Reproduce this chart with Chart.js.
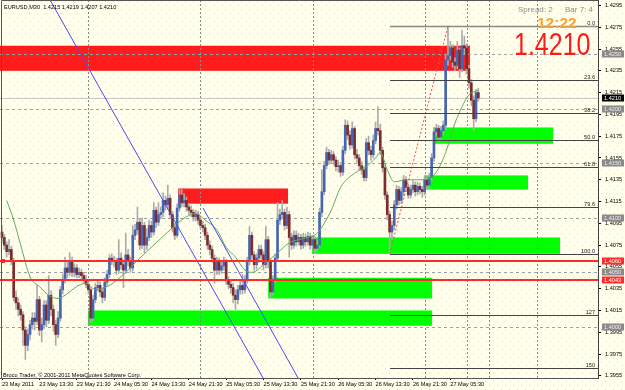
<!DOCTYPE html>
<html><head><meta charset="utf-8">
<script src="https://cdn.jsdelivr.net/npm/chart.js@4/dist/chart.umd.min.js"></script>
<style>html,body{margin:0;padding:0;background:#FFFFEC;}canvas{display:block}</style>
</head><body>
<canvas id="c" width="625" height="390" style="width:625px;height:390px"></canvas>
<script>
// ---------------- DATA (EURUSD M30) ----------------
const opens = [1.4087,1.4082,1.4075,1.4069,1.4071,1.4060,1.4027,1.4022,1.4016,1.4011,
1.3997,1.3983,1.3993,1.4002,1.4008,1.4005,1.4025,1.3997,1.4002,1.4020,
1.4006,1.4029,1.4016,1.4002,1.3993,1.4008,1.4034,1.4043,1.4054,1.4050,
1.4060,1.4050,1.4054,1.4048,1.4050,1.4047,1.4043,1.4039,1.4034,1.4008,
1.4025,1.4036,1.4038,1.4032,1.4027,1.4041,1.4048,1.4063,1.4061,1.4060,
1.4052,1.4063,1.4057,1.4052,1.4066,1.4060,1.4054,1.4084,1.4089,1.4096,
1.4075,1.4093,1.4075,1.4082,1.4093,1.4087,1.4107,1.4096,1.4103,1.4105,
1.4116,1.4112,1.4118,1.4103,1.4091,1.4084,1.4109,1.4121,1.4114,1.4116,
1.4110,1.4107,1.4105,1.4101,1.4103,1.4098,1.4093,1.4091,1.4084,1.4075,
1.4071,1.4063,1.4052,1.4060,1.4052,1.4056,1.4060,1.4043,1.4039,1.4036,
1.4029,1.4025,1.4034,1.4038,1.4034,1.4043,1.4060,1.4084,1.4066,1.4057,
1.4063,1.4071,1.4066,1.4057,1.4080,1.4060,1.4032,1.4043,1.4063,1.4098,
1.4103,1.4105,1.4093,1.4103,1.4082,1.4075,1.4084,1.4078,1.4082,1.4075,
1.4082,1.4078,1.4083,1.4075,1.4080,1.4072,1.4075,1.4105,1.4124,1.4148,
1.4160,1.4153,1.4158,1.4153,1.4147,1.4148,1.4142,1.4162,1.4185,1.4176,
1.4167,1.4182,1.4158,1.4155,1.4148,1.4144,1.4137,1.4169,1.4162,1.4158,
1.4171,1.4182,1.4180,1.4162,1.4146,1.4121,1.4103,1.4087,1.4093,1.4112,
1.4126,1.4116,1.4124,1.4135,1.4128,1.4121,1.4126,1.4130,1.4124,1.4129,
1.4126,1.4124,1.4135,1.4130,1.4137,1.4155,1.4179,1.4182,1.4174,1.4180,
1.4185,1.4245,1.4249,1.4256,1.4243,1.4240,1.4254,1.4237,1.4258,1.4256,
1.4237,1.4224,1.4208,1.4191,1.4215];
const highs = [1.4093,1.4085,1.4078,1.4080,1.4074,1.4063,1.4033,1.4026,1.4020,1.4014,
1.4000,1.3998,1.4006,1.4013,1.4013,1.4038,1.4028,1.4008,1.4024,1.4024,
1.4047,1.4033,1.4020,1.4006,1.4014,1.4037,1.4048,1.4064,1.4060,1.4068,
1.4064,1.4058,1.4057,1.4054,1.4053,1.4050,1.4047,1.4042,1.4036,1.4029,
1.4040,1.4043,1.4041,1.4036,1.4045,1.4052,1.4066,1.4067,1.4065,1.4063,
1.4080,1.4068,1.4061,1.4086,1.4071,1.4064,1.4093,1.4094,1.4110,1.4099,
1.4100,1.4096,1.4090,1.4098,1.4097,1.4114,1.4110,1.4114,1.4110,1.4123,
1.4120,1.4130,1.4121,1.4106,1.4095,1.4113,1.4127,1.4126,1.4122,1.4119,
1.4113,1.4111,1.4108,1.4107,1.4106,1.4101,1.4097,1.4094,1.4087,1.4079,
1.4074,1.4066,1.4064,1.4063,1.4060,1.4064,1.4062,1.4046,1.4043,1.4040,
1.4034,1.4038,1.4043,1.4048,1.4047,1.4064,1.4092,1.4087,1.4069,1.4067,
1.4075,1.4075,1.4069,1.4092,1.4083,1.4062,1.4047,1.4067,1.4114,1.4108,
1.4116,1.4108,1.4110,1.4106,1.4086,1.4088,1.4088,1.4086,1.4085,1.4086,
1.4085,1.4087,1.4086,1.4084,1.4083,1.4079,1.4109,1.4144,1.4152,1.4165,
1.4163,1.4162,1.4161,1.4156,1.4153,1.4151,1.4166,1.4190,1.4189,1.4180,
1.4188,1.4184,1.4163,1.4158,1.4152,1.4147,1.4173,1.4175,1.4166,1.4176,
1.4188,1.4202,1.4186,1.4165,1.4149,1.4124,1.4106,1.4097,1.4116,1.4130,
1.4129,1.4128,1.4139,1.4138,1.4131,1.4130,1.4134,1.4133,1.4133,1.4132,
1.4129,1.4139,1.4138,1.4141,1.4159,1.4183,1.4186,1.4185,1.4184,1.4189,
1.4250,1.4276,1.4262,1.4259,1.4247,1.4262,1.4256,1.4272,1.4267,1.4260,
1.4240,1.4227,1.4212,1.4218,1.4219];
const lows = [1.4077,1.4071,1.4064,1.4066,1.4057,1.4024,1.4016,1.4010,1.4006,1.3983,
1.3970,1.3978,1.3988,1.3998,1.3997,1.4002,1.3992,1.3986,1.3998,1.4000,
1.4003,1.4010,1.3996,1.3983,1.3990,1.4005,1.4030,1.4040,1.4045,1.4047,
1.4046,1.4046,1.4045,1.4045,1.4043,1.4040,1.4036,1.4030,1.4004,1.4005,
1.4022,1.4033,1.4028,1.4022,1.4024,1.4038,1.4045,1.4057,1.4055,1.4048,
1.4049,1.4053,1.4036,1.4049,1.4056,1.4050,1.4051,1.4080,1.4085,1.4071,
1.4072,1.4068,1.4071,1.4079,1.4082,1.4084,1.4091,1.4093,1.4099,1.4101,
1.4107,1.4108,1.4099,1.4087,1.4080,1.4082,1.4106,1.4110,1.4110,1.4106,
1.4103,1.4101,1.4097,1.4097,1.4094,1.4090,1.4087,1.4080,1.4071,1.4066,
1.4059,1.4040,1.4048,1.4048,1.4049,1.4052,1.4039,1.4035,1.4031,1.4022,
1.4016,1.4021,1.4030,1.4030,1.4031,1.4040,1.4057,1.4062,1.4052,1.4053,
1.4059,1.4062,1.4052,1.4054,1.4054,1.4027,1.4029,1.4040,1.4060,1.4094,
1.4099,1.4089,1.4090,1.4064,1.4071,1.4072,1.4074,1.4075,1.4071,1.4072,
1.4074,1.4075,1.4071,1.4072,1.4068,1.4069,1.4073,1.4101,1.4121,1.4145,
1.4149,1.4150,1.4149,1.4143,1.4142,1.4138,1.4139,1.4159,1.4172,1.4163,
1.4164,1.4154,1.4151,1.4144,1.4140,1.4134,1.4134,1.4158,1.4153,1.4155,
1.4168,1.4176,1.4158,1.4142,1.4117,1.4098,1.4067,1.4080,1.4089,1.4108,
1.4112,1.4113,1.4120,1.4124,1.4118,1.4118,1.4123,1.4120,1.4121,1.4122,
1.4119,1.4121,1.4126,1.4127,1.4134,1.4152,1.4175,1.4170,1.4171,1.4176,
1.4181,1.4240,1.4245,1.4238,1.4235,1.4237,1.4229,1.4234,1.4250,1.4232,
1.4219,1.4203,1.4180,1.4188,1.4207];
const closes = [1.4082,1.4075,1.4069,1.4071,1.4060,1.4027,1.4022,1.4016,1.4011,1.3997,
1.3983,1.3993,1.4002,1.4008,1.4005,1.4025,1.3997,1.4002,1.4020,1.4006,
1.4029,1.4016,1.4002,1.3993,1.4008,1.4034,1.4043,1.4054,1.4050,1.4060,
1.4050,1.4054,1.4048,1.4050,1.4047,1.4043,1.4039,1.4034,1.4008,1.4025,
1.4036,1.4038,1.4032,1.4027,1.4041,1.4048,1.4063,1.4061,1.4060,1.4052,
1.4063,1.4057,1.4052,1.4066,1.4060,1.4054,1.4084,1.4089,1.4096,1.4075,
1.4093,1.4075,1.4082,1.4093,1.4087,1.4107,1.4096,1.4103,1.4105,1.4116,
1.4112,1.4118,1.4103,1.4091,1.4084,1.4109,1.4121,1.4114,1.4116,1.4110,
1.4107,1.4105,1.4101,1.4103,1.4098,1.4093,1.4091,1.4084,1.4075,1.4071,
1.4063,1.4052,1.4060,1.4052,1.4056,1.4060,1.4043,1.4039,1.4036,1.4029,
1.4025,1.4034,1.4038,1.4034,1.4043,1.4060,1.4084,1.4066,1.4057,1.4063,
1.4071,1.4066,1.4057,1.4080,1.4060,1.4032,1.4043,1.4063,1.4098,1.4103,
1.4105,1.4093,1.4103,1.4082,1.4075,1.4084,1.4078,1.4082,1.4075,1.4082,
1.4078,1.4083,1.4075,1.4080,1.4072,1.4075,1.4105,1.4124,1.4148,1.4160,
1.4153,1.4158,1.4153,1.4147,1.4148,1.4142,1.4162,1.4185,1.4176,1.4167,
1.4182,1.4158,1.4155,1.4148,1.4144,1.4137,1.4169,1.4162,1.4158,1.4171,
1.4182,1.4180,1.4162,1.4146,1.4121,1.4103,1.4087,1.4093,1.4112,1.4126,
1.4116,1.4124,1.4135,1.4128,1.4121,1.4126,1.4130,1.4124,1.4129,1.4126,
1.4124,1.4135,1.4130,1.4137,1.4155,1.4179,1.4182,1.4174,1.4180,1.4185,
1.4245,1.4249,1.4256,1.4243,1.4240,1.4254,1.4237,1.4258,1.4256,1.4237,
1.4224,1.4208,1.4191,1.4215,1.4210];

// moving average (bar index, price)
const maIdx = [2,5,8,12,16,20,24,27,32,36,40,46,53,59,66,71,79,83,87,92,96,100,104,107,113,118,123,127,131,135,141,145,151,156,160,162,165,168,173,181,186,190,194,197,200,204];
const maVal = [1.4116,1.4098,1.4075,1.4046,1.4037,1.4029,1.4026,1.4029,1.4037,1.4040,1.4034,1.4038,1.4050,1.4063,1.4077,1.4087,1.4101,1.4104,1.4098,1.4089,1.4073,1.4064,1.4052,1.4050,1.4059,1.4068,1.4077,1.4080,1.4082,1.4086,1.4107,1.4128,1.4141,1.4147,1.4155,1.4160,1.4144,1.4133,1.4135,1.4135,1.4142,1.4160,1.4187,1.4202,1.4213,1.4217];

// time axis
const xTickIdx = [0,16,32,48,64,80,96,112,128,144,160,176,192];
const xTickLabels = ['23 May 2011','23 May 13:30','23 May 21:30','24 May 05:30','24 May 13:30','24 May 21:30','25 May 05:30','25 May 13:30','25 May 21:30','26 May 05:30','26 May 13:30','26 May 21:30','27 May 05:30'];
const dayLines = [37,85,133,181,229];
const timeLines = [199,208.6];
// price axis
const yTicks = [1.4295,1.4275,1.4255,1.4235,1.4215,1.4195,1.4175,1.4155,1.4135,1.4115,1.4095,1.4075,1.4055,1.4035,1.4015,1.3995,1.3975,1.3955];
const roundLevels = [1.4250,1.4200,1.4150,1.4100,1.4050,1.4000];
const redLevels = [1.4060,1.4043];
const bidPrice = 1.4210;

// zones: [fromBar, toBar, topPrice, bottomPrice]
const redZones = [[-3,200.4,1.4258,1.4235],[75.4,122.5,1.4127,1.4113]];
const greenZones = [[185,236,1.4183,1.4168],[181.2,225.3,1.4139,1.4126],[132.8,239,1.4082,1.4067],[114,184.2,1.4045,1.4026],[36.8,184.2,1.4015,1.4001]];

// trend lines: [bar, price] pairs
const trendA = [[20.6,1.4300],[111.8,1.3953]];
const trendB = [[86.1,1.4109],[126.8,1.3953]];

// fibonacci retracement
const fibFromBar = 166, fibToBar = 191;
const fibLow = 1.4067, fibHigh = 1.4276;
const fibLevels = [0,23.6,38.2,50,61.8,79.6,100,127,150];
const fibLabels = ['0.0','23.6','38.2','50.0','61.8','79.6','100.0','127','150'];

// ---------------- CHART ----------------
const FONT = "'Liberation Sans', Arial, sans-serif";
const BULL = '#4666B4', BEAR = '#7D2B2B', WICK = '#ABABAB';
const X_MIN = -0.857, X_MAX = 255.25, Y_MIN = 1.3953, Y_MAX = 1.4300;

const bodies = closes.map((c,i)=>({x:i, y:[opens[i], c]}));
const wicks = closes.map((c,i)=>({x:i, y:[lows[i], highs[i]]}));
const bodyColors = closes.map((c,i)=> c >= opens[i] ? BULL : BEAR);
const line2 = pts => pts.map(p=>({x:p[0], y:p[1]}));
const fibPrice = l => fibHigh - (fibHigh - fibLow) * l / 100;

const bgPlugin = {
  id:'bg',
  beforeDraw(chart){
    const c = chart.ctx; c.save();
    c.fillStyle = '#FFFFEC'; c.fillRect(0,0,chart.width,chart.height);
    c.fillStyle = 'rgba(240,165,90,0.45)';
    for (let yy=1, r=0; yy<chart.height; yy+=4, r++){
      for (let xx=(r%2)*4+1; xx<chart.width; xx+=8) c.fillRect(xx,yy,1,1);
    }
    c.restore();
  }
};

const behindPlugin = {
  id:'behind',
  beforeDatasetsDraw(chart){
    const c = chart.ctx, a = chart.chartArea;
    const xs = chart.scales.x, ys = chart.scales.y;
    const X = v => xs.getPixelForValue(v), Y = v => ys.getPixelForValue(v);
    c.save();
    c.beginPath(); c.rect(a.left, a.top, a.right-a.left, a.bottom-a.top); c.clip();
    c.fillStyle = '#FF1C1C';
    redZones.forEach(z=>{ c.fillRect(X(z[0]), Y(z[2]), X(z[1])-X(z[0]), Y(z[3])-Y(z[2])); });
    c.fillStyle = '#00FF00';
    greenZones.forEach(z=>{ c.fillRect(X(z[0]), Y(z[2]), X(z[1])-X(z[0]), Y(z[3])-Y(z[2])); });
    // bid line
    c.strokeStyle = '#C8C8C8'; c.lineWidth = 1;
    let yb = Math.round(Y(bidPrice))+0.5;
    c.beginPath(); c.moveTo(a.left,yb); c.lineTo(a.right,yb); c.stroke();
    // dashed verticals
    c.strokeStyle = '#8A8A8A'; c.setLineDash([2,2]);
    dayLines.concat(timeLines).forEach(v=>{
      const xx = Math.round(X(v))+0.5;
      c.beginPath(); c.moveTo(xx,a.top); c.lineTo(xx,a.bottom); c.stroke();
    });
    // dashed round levels
    c.strokeStyle = '#A0A0A0'; c.setLineDash([3,3]);
    roundLevels.forEach(v=>{
      const yy = Math.round(Y(v))+0.5;
      c.beginPath(); c.moveTo(a.left,yy); c.lineTo(a.right,yy); c.stroke();
    });
    c.restore();
  },
  afterDatasetsDraw(chart){
    const c = chart.ctx, a = chart.chartArea;
    const xs = chart.scales.x, ys = chart.scales.y;
    const X = v => xs.getPixelForValue(v), Y = v => ys.getPixelForValue(v);
    c.save();
    c.beginPath(); c.rect(a.left, a.top, a.right-a.left, a.bottom-a.top); c.clip();
    // red horizontal lines
    c.strokeStyle = '#FF2A2A'; c.lineWidth = 2;
    redLevels.forEach(v=>{
      const yy = Math.round(Y(v));
      c.beginPath(); c.moveTo(a.left,yy); c.lineTo(a.right,yy); c.stroke();
    });
    c.lineWidth = 1;
    const ys0 = Math.round(Y(redLevels[0]));
    c.strokeRect(1.5, ys0-1.5, 3, 3);
    // fib levels
    const fx = Math.round(X(fibFromBar));
    c.font = '5.6px ' + FONT; c.textAlign = 'right'; c.textBaseline = 'alphabetic';
    fibLevels.forEach((l,k)=>{
      const yy = Math.round(Y(fibPrice(l)))+0.5;
      c.strokeStyle = k===0 ? '#8A8A8A' : '#444'; c.lineWidth = k===0 ? 1.5 : 1;
      c.beginPath(); c.moveTo(fx,yy); c.lineTo(a.right,yy); c.stroke();
      c.fillStyle = '#222'; c.fillText(fibLabels[k], a.right-3, yy-1.5);
    });
    c.restore();
  },
  afterDraw(chart){
    const c = chart.ctx, a = chart.chartArea, ys = chart.scales.y;
    const Y = v => ys.getPixelForValue(v);
    c.save();
    // frame
    c.strokeStyle = '#555'; c.lineWidth = 1;
    c.beginPath(); c.moveTo(1.5,a.bottom); c.lineTo(1.5,0.5); c.lineTo(a.right,0.5); c.stroke();
    // axis price boxes
    c.font = '5.6px ' + FONT; c.textAlign = 'left'; c.textBaseline = 'middle';
    const box = (v, bg, fg) => {
      const yy = Math.round(Y(v));
      c.fillStyle = bg; c.fillRect(a.right+4, yy-3.5, 22, 7);
      c.fillStyle = fg; c.fillText(v.toFixed(4), a.right+6, yy+0.5);
    };
    roundLevels.forEach(v=>box(v,'#8A8A8A','#EEEEEE'));
    redLevels.forEach(v=>box(v,'#FF2A2A','#FFFFFF'));
    box(bidPrice,'#000000','#FFFFFF');
    // texts
    c.textBaseline = 'alphabetic';
    c.fillStyle = '#000'; c.font = '5.6px ' + FONT;
    c.fillText('EURUSD,M30  1.4215 1.4219 1.4207 1.4210', 4, 9);
    c.fillText('Broco Trader, \u00A9 2001-2011 MetaQuotes Software Corp.', 3, 377);
    c.fillStyle = '#8C8C8C'; c.font = '8px ' + FONT;
    c.fillText('Spread: 2', 518, 12);
    c.fillText('Bar 7: 4', 565, 12);
    c.fillStyle = '#F9A43A'; c.font = 'bold 15.5px ' + FONT;
    c.fillText('12:22', 537, 28);
    c.fillStyle = '#FF1A1A'; c.font = '25px ' + FONT;
    c.translate(514, 55); c.scale(1, 1.26);
    c.fillText('1.4210', 0, 0);
    c.restore();
  }
};

new Chart(document.getElementById('c').getContext('2d'), {
  type:'bar',
  data:{datasets:[
    {type:'line', data: line2(trendA), borderColor:'#4B4BF0', borderWidth:1, pointRadius:0, order:0},
    {type:'line', data: line2(trendB), borderColor:'#4B4BF0', borderWidth:1, pointRadius:0, order:0},
    {type:'line', data: [{x:fibFromBar,y:fibLow},{x:fibToBar,y:fibHigh}], borderColor:'#FF4A4A', borderWidth:1, borderDash:[2,2], pointRadius:0, order:0},
    {type:'line', data: maIdx.map((x,k)=>({x, y:maVal[k]})), borderColor:'#62AD62', borderWidth:1, pointRadius:0, cubicInterpolationMode:'monotone', order:1},
    {type:'bar', data: bodies, backgroundColor: bodyColors, barThickness:2, grouped:false, minBarLength:1, order:2},
    {type:'bar', data: wicks, backgroundColor: WICK, barThickness:1, grouped:false, order:3}
  ]},
  options:{
    responsive:false, animation:false, events:[],
    layout:{padding:0},
    plugins:{legend:{display:false}, tooltip:{enabled:false}},
    scales:{
      x:{type:'linear', min:X_MIN, max:X_MAX, offset:false,
         grid:{drawOnChartArea:false, tickLength:2, color:'#000', offset:false},
         border:{display:true, color:'#555'},
         afterBuildTicks: s => { s.ticks = xTickIdx.map(v=>({value:v})); },
         afterFit: s => { s.height = 12; s.paddingLeft = 0; s.paddingRight = 0; },
         ticks:{autoSkip:false, maxRotation:0, minRotation:0, align:'start', padding:1,
                color:'#000', font:{family:FONT, size:5.6},
                callback:(v,i)=>xTickLabels[i]}},
      y:{type:'linear', position:'right', min:Y_MIN, max:Y_MAX, beginAtZero:false,
         grid:{drawOnChartArea:false, tickLength:3, color:'#000'},
         border:{display:true, color:'#444'},
         afterBuildTicks: s => { s.ticks = yTicks.map(v=>({value:v})); },
         afterFit: s => { s.width = 27; s.paddingTop = 0; s.paddingBottom = 0; },
         ticks:{padding:4, color:'#000', font:{family:FONT, size:5.6},
                callback:v=>Number(v).toFixed(4)}}
    }
  },
  plugins:[bgPlugin, behindPlugin]
});
</script>
</body></html>
